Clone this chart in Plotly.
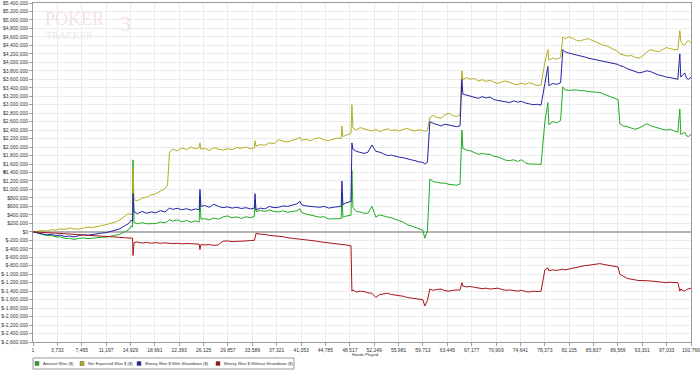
import plotly.graph_objects as go

# ---------------- data ----------------
hands = [
    1, 700, 1400, 2100, 2800, 3500, 4200, 4900, 5600, 6300, 7000, 7700, 8400, 9100, 9800, 10500, 11200, 11900,
    12600, 13300, 14000, 14600, 15000, 15250,
    15310, 15470, 16000, 16700, 17400, 18100, 18800, 19500, 20200, 20600,
    20900, 21400, 22100, 22800, 23500, 24200, 24900, 25450,
    25568, 25720, 26300, 27000, 27700, 28400, 29100, 29800, 30500, 31200, 31900, 32600, 33300, 33900,
    34000, 34150, 34800, 35500, 36200, 36900, 37600, 38300, 39000, 39700, 40400, 40900, 41100, 41800, 42500,
    43200, 43900, 44600, 45300, 46000, 46700, 47200,
    47310, 47460, 47900, 48400, 48700,
    48840, 48990, 49500, 50100, 50700, 51300, 51900, 52500, 53100, 53700, 54300, 54900, 55500, 56100, 56700,
    57300, 57900, 58500, 59100, 59700, 60000, 60400,
    60780, 61300, 61900, 62500, 63100, 63700, 64300, 64900, 65400,
    65680, 65830, 66400, 67000, 67600, 68200, 68800, 69400, 70000, 70600, 71200, 71800, 72400, 73000, 73600,
    74200, 74800, 75400, 76000, 76600, 77200, 77800,
    78390, 78850, 79000, 79600, 80200, 80800,
    81140, 81450, 82000, 82600, 83200, 83800, 84400, 85000, 85600, 86200, 86800, 87400, 88000, 88600, 89200, 89600,
    89870, 90400, 91000, 91600, 92200, 92800, 93400, 94000, 94600, 95200, 95800, 96400, 97000, 97600, 98200, 98750,
    99055, 99200, 99500, 99800, 100100, 100400, 100766]

# values in thousands of dollars (converted to $ below)
amount_won_k = [
    0, -25, -50, -90, -85, -120, -120, -155, -155, -180, -155, -145, -160, -145, -140, -130, -125, -105,
    -75, -60, 0, 40, 130, 110,
    1700, 220, 190, 215, 190, 200, 195, 230, 210, 245,
    290, 250, 285, 235, 270, 225, 260, 230,
    850, 300, 310, 280, 330, 295, 350, 375, 330, 355, 315, 355, 335, 360,
    750, 480, 505, 480, 515, 480, 470, 495, 460, 480, 495, 545, 460, 420, 400,
    375, 345, 355, 300, 310, 305, 310,
    900, 340, 370, 380, 390,
    1450, 580, 480, 470, 440, 440, 600, 350, 400, 370, 350, 330, 290, 260, 230,
    170, 140, 110, 70, 40, -150, 20,
    1250, 1180, 1170, 1150, 1150, 1120, 1110, 1100, 1130,
    2400, 1970, 1930, 1910, 1870, 1830, 1850, 1830, 1830, 1780, 1770, 1720, 1690, 1680, 1700,
    1660, 1700, 1630, 1600, 1600, 1600, 1590,
    2600, 3050, 2530, 2600, 2570, 2630,
    3420, 3350, 3340, 3340, 3350, 3330, 3330, 3310, 3300, 3300, 3290, 3250, 3210, 3180, 3140, 3120,
    2550, 2500, 2480, 2450, 2420, 2450, 2500, 2550, 2500, 2470, 2450, 2420, 2400, 2420, 2380, 2350,
    2900, 2300, 2320, 2350, 2260, 2250, 2300]

net_expected_k = [
    0, 10, 30, 20, 50, 40, 70, 60, 90, 70, 60, 90, 110, 100, 130, 150, 170, 200,
    230, 280, 360, 430, 400, 450,
    1500, 760, 730, 800, 820, 870, 900, 960, 1020, 1100,
    1880, 1950, 1910, 1980, 1940, 2000, 1960, 1990,
    2100, 1950, 1970, 1920, 1990, 1950, 1930, 1960, 1940, 1990, 1970, 2000, 1960, 1980,
    2150, 2020, 2060, 2040, 2100, 2080, 2170, 2140, 2120, 2160, 2190, 2230, 2160, 2180, 2150,
    2200, 2220, 2170, 2150, 2190, 2210, 2200,
    2500, 2250, 2280, 2300, 2320,
    3000, 2450, 2400, 2460, 2430, 2400, 2380, 2420, 2360, 2400, 2430, 2390, 2410, 2380, 2420,
    2440, 2400, 2380, 2410, 2390, 2370, 2400,
    2700, 2750, 2700, 2680, 2760, 2800, 2740, 2720, 2760,
    3800, 3600, 3640, 3600, 3620, 3560, 3590, 3550, 3580, 3530, 3500, 3540, 3560, 3520, 3490,
    3470, 3510, 3480, 3520, 3490, 3450, 3470,
    4000, 4300, 4050, 4100, 4070, 4120,
    4600, 4550, 4600, 4570, 4520, 4500, 4540, 4560, 4520, 4480, 4450, 4400, 4380, 4330, 4300, 4250,
    4200, 4180, 4150, 4160, 4120, 4100, 4150, 4250, 4300, 4270, 4250, 4300, 4350, 4320, 4300, 4300,
    4750, 4500, 4420, 4400, 4480, 4520, 4450]

with_showdown_k = [
    0, -20, -40, -70, -60, -90, -80, -110, -100, -120, -90, -70, -80, -60, -50, -30, -20, 10,
    50, 70, 140, 190, 270, 260,
    900, 470, 430, 480, 440, 470, 450, 500, 470, 510,
    560, 530, 555, 520, 545, 510, 540, 520,
    1000, 600, 620, 580, 650, 600, 570, 590, 560, 580, 550, 570, 540, 560,
    900, 520, 560, 540, 600, 570, 580, 610, 600, 630, 660, 720, 640, 610, 600,
    590, 580, 600, 560, 580, 590, 600,
    1200, 640, 680, 700, 720,
    2100, 1950, 1900, 1870, 1850, 1880, 2050, 1900, 1880, 1840, 1800, 1810, 1780, 1760, 1750,
    1720, 1700, 1680, 1650, 1640, 1600, 1640,
    2600, 2560, 2530, 2500, 2540, 2520, 2490, 2480, 2500,
    3600, 3250, 3230, 3200, 3180, 3150, 3190, 3160, 3180, 3120, 3100, 3080, 3070, 3050, 3090,
    3060, 3080, 3040, 3020, 3000, 3010, 2990,
    3500, 3900, 3450, 3500, 3480, 3520,
    4300, 4250, 4220, 4200, 4180, 4150, 4130, 4100, 4080, 4060, 4040, 4020, 4000, 3980, 3960, 3950,
    3920, 3900, 3850, 3820, 3780, 3750, 3770, 3800, 3780, 3740, 3700, 3680, 3650, 3640, 3620, 3600,
    4200, 3650, 3700, 3750, 3620, 3600, 3650]

without_showdown_k = [
    0, -5, -10, -20, -25, -30, -40, -45, -55, -60, -65, -75, -80, -85, -90, -100, -105, -115,
    -125, -130, -140, -150, -140, -150,
    -560, -250, -240, -265, -250, -270, -255, -270, -260, -265,
    -270, -280, -270, -285, -275, -285, -280, -290,
    -420, -300, -310, -300, -320, -305, -220, -215, -230, -225, -235, -215, -205, -200,
    -150, -40, -55, -60, -85, -90, -110, -115, -140, -150, -165, -175, -180, -190, -200,
    -215, -235, -245, -260, -270, -285, -290,
    -300, -300, -310, -320, -330,
    -1400, -1370, -1420, -1400, -1410, -1440, -1450, -1550, -1480, -1470, -1450, -1480, -1490, -1500, -1520,
    -1550, -1560, -1570, -1580, -1600, -1750, -1620,
    -1350, -1380, -1360, -1350, -1390, -1400, -1380, -1380, -1370,
    -1200, -1280, -1300, -1290, -1310, -1320, -1340, -1330, -1350, -1340, -1330, -1360, -1380, -1370, -1390,
    -1400, -1380, -1410, -1420, -1400, -1410, -1400,
    -900, -850, -920, -900, -910, -890,
    -880, -900, -880, -860, -830, -820, -800, -790, -780, -760, -750, -770, -790, -800, -820, -830,
    -1000, -1050, -1100, -1120, -1140, -1150, -1150, -1150, -1160, -1170, -1180, -1190, -1200, -1190, -1200, -1200,
    -1400, -1350, -1380, -1400, -1360, -1350, -1330]

series_names = ["Amount Won ($)", "Net Expected Won $ ($)", "Money Won $ With Showdown ($)",
                "Money Won $ Without Showdown ($)"]
series_colors = ["#1faa1f", "#b4ae22", "#2323a8", "#a81414"]

x_tick_labels = ["1", "3,733", "7,465", "11,197", "14,929", "18,661", "22,393", "26,125", "29,857", "33,589",
                 "37,321", "41,053", "44,785", "48,517", "52,249", "55,981", "59,713", "63,445", "67,177",
                 "70,909", "74,641", "78,373", "82,105", "85,837", "89,569", "93,301", "97,033", "100,766"]
y_min, y_max, y_step = -2600000, 5400000, 200000

# ---------------- figure ----------------
W, H = 700, 375
L, R, T, B = 33, 691, 3, 342


def px(x):
    return (x - L) / (R - L)


def py(y):
    return (B - y) / (B - T)


fig = go.Figure()
for name, vals, col in zip(series_names,
                           [amount_won_k, net_expected_k, with_showdown_k, without_showdown_k],
                           series_colors):
    fig.add_trace(go.Scatter(x=hands, y=[v * 1000 for v in vals], mode="lines", name=name,
                             line=dict(color=col, width=1), showlegend=False, hoverinfo="skip"))

x_tick_vals = [int(s.replace(",", "")) for s in x_tick_labels]
y_tick_vals = list(range(y_min, y_max + 1, y_step))
y_tick_text = ["$" + format(v, ",") for v in y_tick_vals]

tickfont = dict(family="Liberation Sans, Arial, sans-serif", size=5, color="#333333")
legfont = dict(family="Liberation Sans, Arial, sans-serif", size=4.2, color="#333333")

fig.update_layout(
    width=W, height=H,
    margin=dict(l=L, r=W - R, t=T, b=H - B, pad=0),
    paper_bgcolor="white", plot_bgcolor="white",
    showlegend=False, hovermode=False,
    xaxis=dict(range=[1, 100766], tickmode="array", tickvals=x_tick_vals, ticktext=x_tick_labels,
               tickfont=tickfont, ticks="outside", ticklen=3, tickcolor="#a0a0a0", automargin=False,
               ticklabeloverflow="allow",
               showgrid=True, gridcolor="#ececec", gridwidth=1,
               showline=True, linecolor="#9a9a9a", linewidth=1, mirror=True, zeroline=False),
    yaxis=dict(range=[y_min, y_max], tickmode="array", tickvals=y_tick_vals, ticktext=y_tick_text,
               tickfont=tickfont, ticks="outside", ticklen=3, tickcolor="#a0a0a0", automargin=False,
               ticklabeloverflow="allow",
               showgrid=True, gridcolor="#ececec", gridwidth=1,
               showline=True, linecolor="#9a9a9a", linewidth=1, mirror=True,
               zeroline=True, zerolinecolor="#b4b4b4", zerolinewidth=2),
)

annotations = []
shapes = []

# watermark logo
annotations.append(dict(xref="paper", yref="paper", x=px(43), y=py(19), xanchor="left", yanchor="middle",
                        text="POKER", showarrow=False,
                        font=dict(family="Liberation Serif, serif", size=18, color="#f4e2e2")))
annotations.append(dict(xref="paper", yref="paper", x=px(44), y=py(35), xanchor="left", yanchor="middle",
                        text="TRACKER", showarrow=False,
                        font=dict(family="Liberation Serif, serif", size=10, color="#e9e9e9")))
annotations.append(dict(xref="paper", yref="paper", x=px(118), y=py(24), xanchor="left", yanchor="middle",
                        text="3", showarrow=False,
                        font=dict(family="Liberation Serif, serif", size=22, color="#f4e2e2")))

# axis titles
annotations.append(dict(xref="paper", yref="paper", x=px(365), y=py(354), xanchor="center", yanchor="middle",
                        text="Hands Played", showarrow=False, font=legfont))
annotations.append(dict(xref="paper", yref="paper", x=px(4), y=py(172), xanchor="center", yanchor="middle",
                        text="$", textangle=-90, showarrow=False, font=legfont))

# manual legend
shapes.append(dict(type="rect", xref="paper", yref="paper", x0=px(33), x1=px(294), y0=py(358), y1=py(369),
                   line=dict(color="#9a9a9a", width=1), fillcolor="white"))
legend_x = [35, 80, 137, 216]
for lx, name, col in zip(legend_x, series_names, series_colors):
    shapes.append(dict(type="rect", xref="paper", yref="paper", x0=px(lx), x1=px(lx + 4),
                       y0=py(361.5), y1=py(365.5), line=dict(color="#555555", width=0.5), fillcolor=col))
    annotations.append(dict(xref="paper", yref="paper", x=px(lx + 6), y=py(363.5), xanchor="left",
                            yanchor="middle", text=name, showarrow=False, font=legfont))

fig.update_layout(annotations=annotations, shapes=shapes)
fig.write_html("out.html", config={"displayModeBar": False, "staticPlot": True},
               post_script="document.body.style.margin='0';document.body.style.overflow='hidden';")
